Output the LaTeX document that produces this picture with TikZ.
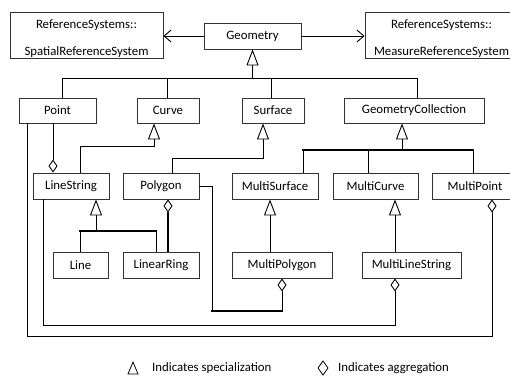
\documentclass[tikz,border=0pt]{standalone}
\usepackage{fontspec}
\setmainfont{Carlito}
\usetikzlibrary{arrows.meta}
\tikzset{
  box/.style={draw=black!80, line width=0.9pt, fill=white, inner sep=0pt, minimum height=26pt, font=\fontsize{12.8}{15}\selectfont},
  lbl/.style={inner sep=0pt, font=\fontsize{12.8}{15}\selectfont},
  con/.style={draw=black, line width=0.9pt},
  thickcon/.style={draw=black, line width=2.4pt},
  inh/.style={con, -{Triangle[open, length=16pt, width=12pt, line width=0.9pt]}},
  agg/.style={con, -{Diamond[open, length=13pt, width=9pt, line width=0.9pt]}},
  nav/.style={con, -{Straight Barb[length=7pt, width=12pt, line width=0.9pt]}}
}
\begin{document}
\begin{tikzpicture}[x=1pt, y=-1pt]
\useasboundingbox (0,0) rectangle (510,378);
\fill[white] (0,0) rectangle (510,378);
\clip (0,0) rectangle (510,378);

% top row
\node[box, minimum width=153pt, minimum height=46pt] (sref) at (86.5,35) {};
\node[lbl, anchor=base] (srefa) at (86.5,28) {ReferenceSystems::};
\node[lbl, anchor=base] (srefb) at (86.5,55) {SpatialReferenceSystem};
\node[box, minimum width=97pt] (geom) at (252.5,36) {Geometry};
\node[box, minimum width=153pt, minimum height=46pt] (mref) at (441.5,35) {};
\node[lbl, anchor=base] (mrefa) at (441.5,28) {ReferenceSystems::};
\node[lbl, anchor=base] (mrefb) at (441.5,55) {MeasureReferenceSystem};

% second row
\node[box, minimum width=77pt, minimum height=25pt] (point) at (57.5,110.5) {Point};
\node[box, minimum width=62pt, minimum height=25pt] (curve) at (168,110.5) {Curve};
\node[box, minimum width=62pt, minimum height=25pt] (surface) at (273,110.5) {Surface};
\node[box, minimum width=140pt, minimum height=25pt] (gcoll) at (414,110.5) {GeometryCollection};

% third row
\node[box, minimum width=76pt] (lstr) at (71,186) {LineString};
\node[box, minimum width=76pt] (poly) at (161,186) {Polygon};
\node[box, minimum width=86pt] (msurf) at (275,186) {MultiSurface};
\node[box, minimum width=85pt] (mcurve) at (375.5,186) {MultiCurve};
\node[box, minimum width=86pt] (mpoint) at (475,186) {MultiPoint};

% fourth row
\node[box, minimum width=55pt] (line) at (80.5,265) {Line};
\node[box, minimum width=76pt] (lring) at (161,265) {LinearRing};
\node[box, minimum width=100pt] (mpoly) at (282,265) {MultiPolygon};
\node[box, minimum width=99pt] (mls) at (411.5,265) {MultiLineString};

% navigation arrows
\draw[nav] (geom.west) -- (sref.east |- geom.west);
\draw[nav] (geom.east) -- (mref.west |- geom.east);

% Geometry hierarchy
\coordinate (gb) at (252.5,78);
\draw[inh] (gb) -- (geom.south);
\draw[con] ([xshift=4.5pt]point.north) |- ([xshift=3pt]gcoll.north |- gb) -- ([xshift=3pt]gcoll.north);
\draw[con] ([xshift=-1pt]curve.north) -- ([xshift=-1pt]curve.north |- gb);
\draw[con] ([xshift=-2pt]surface.north) -- ([xshift=-2pt]surface.north |- gb);

% LineString -> Curve
\coordinate (c1) at (154,146);
\draw[inh] ([xshift=9pt]lstr.north) |- (c1) -- ([xshift=-14pt]curve.south);
% Polygon -> Surface
\coordinate (s1) at (263,158);
\draw[inh] ([xshift=11pt]poly.north) |- (s1) -- ([xshift=-10pt]surface.south);
% Point aggregated in LineString
\draw[agg] ([xshift=-4.5pt]point.south) -- ([xshift=-18pt]lstr.north);

% GeometryCollection hierarchy
\coordinate (gcb) at (402,150);
\draw[inh] (gcb) -- ([xshift=-12pt]gcoll.south);
\draw[con] ([xshift=28pt]msurf.north) -- ([xshift=28pt]msurf.north |- gcb);
\draw[con] ([xshift=-7.5pt]mcurve.north) -- ([xshift=-7.5pt]mcurve.north |- gcb);
\draw[con] ([xshift=-2pt]mpoint.north) -- ([xshift=-2pt]mpoint.north |- gcb);
\draw[thickcon, line cap=rect] ([xshift=28pt]msurf.north |- gcb) -- ([xshift=-2pt]mpoint.north |- gcb);

% LineString hierarchy
\coordinate (lb) at (96,231);
\draw[inh] (lb) -- ([xshift=25pt]lstr.south);
\draw[con] (line.north -| 80,0) -- (80,231);
\draw[con] ([xshift=-5pt]lring.north) -- ([xshift=-5pt]lring.north |- lb);
\draw[thickcon, line cap=rect] (80,231) -- ([xshift=-5pt]lring.north |- lb);

% Polygon aggregates LinearRing
\draw[agg] ([xshift=7pt]lring.north) -- ([xshift=7pt]poly.south);
\draw[thickcon] ([xshift=7pt]lring.north) -- ([xshift=7pt,yshift=-13pt]poly.south);

% MultiSurface <- MultiPolygon, MultiCurve <- MultiLineString
\draw[inh] ([xshift=-12pt]mpoly.north) -- ([xshift=-5pt]msurf.south |- mpoly.north) -- ([xshift=-5pt]msurf.south);
\draw[inh] ([xshift=-16.5pt]mls.north) -- ([xshift=19.5pt]mcurve.south);

% Polygon aggregated in MultiPolygon
\coordinate (p1) at (212,186);
\coordinate (p2) at (212,311);
\draw[agg] (poly.east) -- (p1) -- (p2) -| (mpoly.south);
\draw[thickcon, line cap=rect] (p2) -- (mpoly.south |- p2);

% LineString aggregated in MultiLineString
\coordinate (l1) at (43,325);
\draw[agg] ([xshift=-28pt]lstr.south) |- ([xshift=-16.5pt]mls.south |- l1) -- ([xshift=-16.5pt]mls.south);

% Point aggregated in MultiPoint
\coordinate (m1) at (27,336);
\draw[agg] ([xshift=-30.5pt]point.south) |- ([xshift=17pt]mpoint.south |- m1) -- ([xshift=17pt]mpoint.south);

% legend
\draw[con, line width=0.8pt] (128,374) -- (138,374) -- (133,362) -- cycle;
\node[lbl, anchor=west] (leg1) at (152,368) {Indicates specialization};
\draw[con, line width=0.8pt] (323,361) -- (328,368) -- (323,375) -- (318,368) -- cycle;
\node[lbl, anchor=west] (leg2) at (338,368) {Indicates aggregation};
\end{tikzpicture}
\end{document}
